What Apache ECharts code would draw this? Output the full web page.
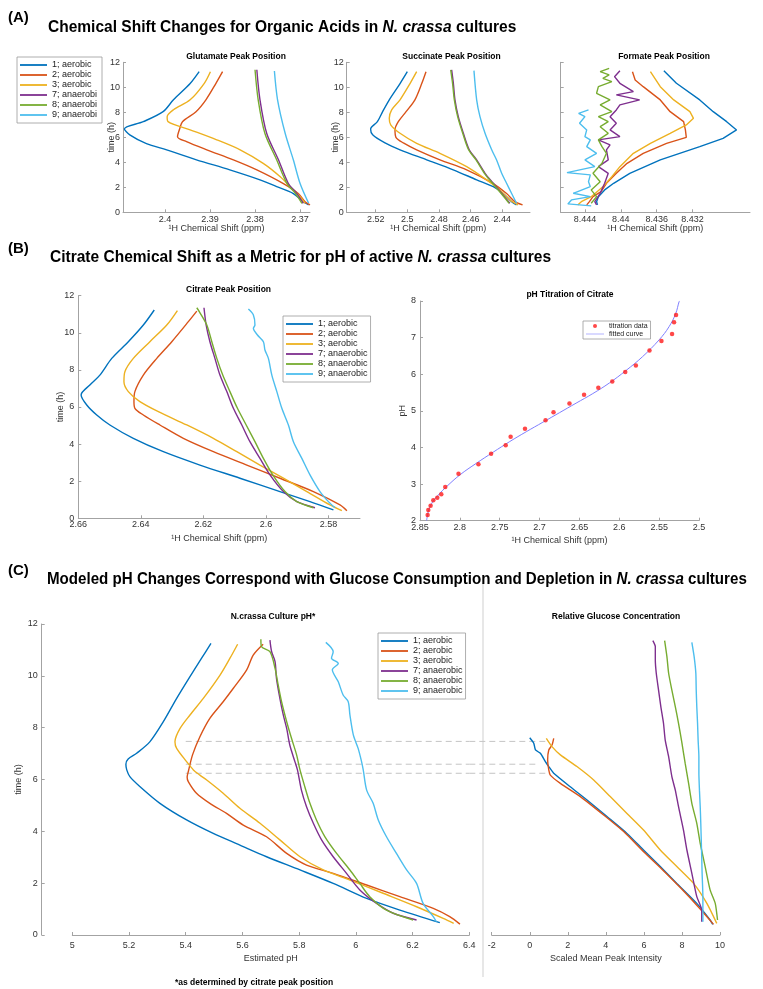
<!DOCTYPE html>
<html><head><meta charset="utf-8">
<script src="https://cdn.jsdelivr.net/npm/echarts@6/dist/echarts.min.js"></script>
<style>html,body{margin:0;padding:0;background:#fff}#c{width:763px;height:989px}</style>
</head><body><div id="c"></div><script>
const FONT = '"Liberation Sans", Arial, Helvetica, sans-serif';
const seriesNames = ['1; aerobic','2; aerobic','3; aerobic','7; anaerobic','8; anaerobic','9; anaerobic'];
const colors = ['#0072BD','#D95319','#EDB120','#7E2F8E','#77AC30','#4DBEEE'];

// ---- (A) Glutamate: [shift ppm, time h]
const glu1 = [[2.3924,11.25],[2.3944,10.3],[2.3981,9.0],[2.4004,8.05],[2.4048,7.25],[2.409,6.67],[2.4078,6.2],[2.4041,5.5],[2.3996,5.0],[2.393,4.2],[2.3856,3.4],[2.3789,2.6],[2.3752,2.05],[2.3715,1.5],[2.3693,0.85],[2.3681,0.6]];
const glu2 = [[2.3872,11.25],[2.3887,10.3],[2.3909,9.0],[2.3931,8.05],[2.3961,7.25],[2.3967,6.7],[2.3972,6.05],[2.3952,5.65],[2.3907,5.0],[2.3848,4.2],[2.3796,3.4],[2.3737,2.3],[2.3704,1.5],[2.3689,0.85],[2.3678,0.6]];
const glu3 = [[2.3899,11.25],[2.3913,10.3],[2.3944,9.0],[2.3981,8.2],[2.3995,7.65],[2.3993,7.25],[2.3944,6.6],[2.3885,5.8],[2.3833,5.0],[2.3781,3.9],[2.3744,2.85],[2.3722,2.05],[2.37,1.25],[2.3689,0.72]];
const glu7 = [[2.3796,11.4],[2.3789,9.0],[2.3774,6.3],[2.3748,4.2],[2.3726,2.3],[2.3707,1.5],[2.3693,0.72]];
const glu8 = [[2.38,11.4],[2.3793,9.0],[2.3778,6.3],[2.3752,4.2],[2.3729,2.3],[2.371,1.5],[2.3696,0.72]];
const glu9 = [[2.3757,11.3],[2.375,9.0],[2.3733,6.3],[2.3715,4.2],[2.37,2.3],[2.3681,0.72]];
const gluTicks = [2.4,2.39,2.38,2.37];

// ---- (A) Succinate
const suc1 = [[2.5,11.25],[2.5046,10.3],[2.5114,9.0],[2.5156,8.05],[2.5189,7.25],[2.5232,6.67],[2.5219,6.2],[2.5141,5.55],[2.5046,5.0],[2.4878,4.2],[2.471,3.4],[2.4562,2.6],[2.4457,2.05],[2.4394,1.5],[2.4341,0.85],[2.431,0.59]];
const suc2 = [[2.4882,11.25],[2.4909,10.3],[2.4952,9.0],[2.5008,8.05],[2.5057,7.25],[2.5078,6.6],[2.5072,6.0],[2.5025,5.55],[2.4941,5.0],[2.4794,4.2],[2.4625,3.4],[2.4457,2.3],[2.4373,1.5],[2.432,0.85],[2.4272,0.59]];
const suc3 = [[2.4941,11.25],[2.4983,10.3],[2.5046,9.0],[2.5099,8.2],[2.5114,7.52],[2.5105,7.0],[2.5046,6.32],[2.4941,5.52],[2.4794,4.72],[2.4625,3.65],[2.4499,2.59],[2.4415,1.79],[2.4352,0.99],[2.43,0.59]];
const suc7 = [[2.472,11.39],[2.4709,10.3],[2.4699,9.0],[2.4678,7.65],[2.4646,6.32],[2.4609,5.0],[2.4562,4.19],[2.4509,3.12],[2.4457,2.32],[2.4404,1.52],[2.4352,0.72]];
const suc8 = [[2.4726,11.39],[2.4714,10.3],[2.4703,9.0],[2.4682,7.65],[2.465,6.32],[2.4613,5.0],[2.4566,4.19],[2.4513,3.12],[2.4461,2.32],[2.4408,1.52],[2.4357,0.72]];
const suc9 = [[2.4579,11.33],[2.4562,9.0],[2.4541,7.65],[2.4509,6.32],[2.4467,5.0],[2.4436,4.19],[2.4404,3.12],[2.4373,2.32],[2.4341,1.5],[2.431,0.72]];
const sucTicks = [2.52,2.5,2.48,2.46,2.44];

// ---- (A) Formate
const for1 = [[8.4352,11.33],[8.4338,10.32],[8.4312,8.99],[8.4297,8.05],[8.4282,7.25],[8.4271,6.59],[8.4286,5.92],[8.4312,5.25],[8.4356,4.19],[8.439,3.12],[8.4408,2.32],[8.4418,1.79],[8.4425,1.25],[8.4427,0.85],[8.4426,0.59]];
const for2 = [[8.4387,11.25],[8.4384,10.59],[8.4375,10.05],[8.4356,8.99],[8.4345,8.05],[8.433,7.25],[8.4328,6.59],[8.4327,6.0],[8.4349,5.52],[8.4375,4.72],[8.4393,3.92],[8.4405,3.12],[8.4416,2.32],[8.4422,1.65],[8.4431,1.25],[8.4435,0.85],[8.4438,0.59]];
const for3 = [[8.4367,11.25],[8.4356,10.05],[8.4341,8.99],[8.4323,8.05],[8.4319,7.52],[8.4327,6.99],[8.4345,6.32],[8.4367,5.52],[8.4386,4.72],[8.4401,3.65],[8.441,2.85],[8.442,2.05],[8.4433,1.25],[8.4444,0.85],[8.4448,0.59]];
const for7 = [[8.4401,11.33],[8.4407,10.85],[8.4401,10.32],[8.4386,9.65],[8.4405,9.39],[8.4379,8.99],[8.4401,8.59],[8.4405,8.19],[8.4412,7.65],[8.4405,7.12],[8.4412,6.59],[8.4401,6.05],[8.4425,5.79],[8.4412,5.39],[8.4416,4.99],[8.4414,4.19],[8.4425,3.65],[8.4414,3.12],[8.4418,2.32],[8.4423,1.52],[8.4429,0.85],[8.4427,0.59]];
const for8 = [[8.4413,11.52],[8.4423,11.25],[8.4413,10.99],[8.442,10.72],[8.441,10.45],[8.4425,10.05],[8.4427,9.52],[8.4412,8.99],[8.4423,8.59],[8.441,8.05],[8.4425,7.65],[8.4414,7.25],[8.4423,6.85],[8.4414,6.32],[8.4425,5.79],[8.4421,5.25],[8.4416,4.72],[8.4421,3.92],[8.4431,3.12],[8.4423,2.45],[8.4433,1.79],[8.4427,1.25],[8.4433,0.72]];
const for9 = [[8.4436,8.19],[8.4447,7.92],[8.444,7.65],[8.4446,7.12],[8.4438,6.59],[8.444,6.05],[8.4434,5.79],[8.4438,5.25],[8.4427,4.72],[8.444,4.19],[8.4429,3.65],[8.446,3.17],[8.4434,2.99],[8.4436,2.45],[8.4434,2.05],[8.4453,1.52],[8.4434,1.25],[8.4455,0.99],[8.4459,0.67],[8.4433,0.51]];
const forTicks = [8.444,8.44,8.436,8.432];

// ---- (B) Citrate
const cit1 = [[2.6357,11.23],[2.6392,10.42],[2.644,9.52],[2.6493,8.62],[2.6531,7.72],[2.6563,7.19],[2.6591,6.65],[2.6573,6.11],[2.6541,5.57],[2.6499,5.03],[2.6424,4.31],[2.6328,3.59],[2.6211,2.87],[2.6083,2.16],[2.5955,1.44],[2.5859,0.9],[2.5784,0.45]];
const cit2 = [[2.6221,11.17],[2.6248,10.6],[2.6301,9.52],[2.6349,8.62],[2.6392,7.72],[2.6419,6.83],[2.6422,6.29],[2.6419,5.93],[2.6392,5.57],[2.6339,5.03],[2.6264,4.31],[2.6168,3.59],[2.6061,2.87],[2.5955,2.16],[2.5848,1.44],[2.5763,0.72],[2.5741,0.41]];
const cit3 = [[2.6283,11.2],[2.6317,10.42],[2.6371,9.52],[2.6424,8.62],[2.6451,7.9],[2.6454,7.36],[2.644,6.83],[2.6403,6.29],[2.6344,5.75],[2.6253,5.03],[2.6168,4.31],[2.6093,3.59],[2.6019,2.87],[2.5944,2.16],[2.5869,1.44],[2.5795,0.72],[2.5757,0.41]];
const cit7 = [[2.6198,11.35],[2.6191,10.42],[2.6179,9.52],[2.6163,8.62],[2.6147,7.72],[2.6125,6.83],[2.6104,5.93],[2.6077,5.03],[2.6051,4.13],[2.6019,3.23],[2.5987,2.34],[2.5944,1.44],[2.5901,0.9],[2.5843,0.57]];
const cit8 = [[2.6221,11.35],[2.6213,11.14],[2.6189,10.42],[2.6173,9.52],[2.6157,8.62],[2.6138,7.72],[2.6115,6.83],[2.6091,5.93],[2.6063,5.03],[2.6035,4.13],[2.6008,3.23],[2.5978,2.34],[2.5939,1.44],[2.5901,0.9],[2.5848,0.57]];
const cit9 = [[2.6056,11.28],[2.604,10.96],[2.6035,10.42],[2.604,10.24],[2.6027,9.88],[2.6008,9.52],[2.6003,9.07],[2.5992,8.62],[2.5981,7.72],[2.5965,6.83],[2.5949,5.93],[2.5928,5.03],[2.5912,4.13],[2.5885,3.23],[2.5859,2.34],[2.5827,1.44],[2.58,0.9],[2.5779,0.57]];
const citTicks = [2.66,2.64,2.62,2.6,2.58];

// ---- (B) pH titration of citrate
const titShift = [2.8404,2.8396,2.8367,2.8333,2.8283,2.8233,2.8183,2.8017,2.7767,2.7608,2.7425,2.7363,2.7183,2.6925,2.6825,2.6625,2.6442,2.6263,2.6088,2.5925,2.5792,2.5621,2.5471,2.5338,2.5313,2.5288];
const titPH = [2.155,2.29,2.41,2.56,2.63,2.72,2.92,3.28,3.54,3.83,4.06,4.29,4.51,4.74,4.96,5.20,5.44,5.63,5.80,6.06,6.24,6.65,6.91,7.10,7.42,7.62];
const fitShift = [2.8417,2.8396,2.8354,2.8271,2.8167,2.8,2.7792,2.7583,2.7375,2.7167,2.6958,2.675,2.6542,2.6333,2.6125,2.5917,2.5708,2.55,2.5375,2.5292,2.525,2.5242];
const fitPH = [2.0,2.25,2.47,2.7,2.93,3.25,3.57,3.87,4.16,4.43,4.69,4.95,5.21,5.47,5.76,6.1,6.48,6.94,7.3,7.66,7.98,8.0];

// ---- (C) Estimated pH: [pH, time h]
const ph1 = [[5.489,11.25],[5.456,10.68],[5.415,9.97],[5.368,9.13],[5.321,8.23],[5.274,7.46],[5.227,7.01],[5.197,6.79],[5.189,6.59],[5.192,6.37],[5.203,6.11],[5.239,5.72],[5.309,5.08],[5.403,4.44],[5.497,3.92],[5.591,3.47],[5.685,3.02],[5.803,2.51],[5.92,1.99],[6.038,1.41],[6.155,0.96],[6.296,0.48]];
const ph2 = [[5.673,11.22],[5.638,10.8],[5.615,10.23],[5.568,9.52],[5.532,9.0],[5.485,8.36],[5.45,7.65],[5.424,6.95],[5.409,6.3],[5.405,6.1],[5.409,5.92],[5.438,5.47],[5.485,5.08],[5.544,4.69],[5.603,4.24],[5.685,3.79],[5.756,3.15],[5.826,2.7],[5.92,2.38],[6.038,1.93],[6.155,1.48],[6.273,1.03],[6.331,0.71],[6.367,0.42]];
const ph3 = [[5.583,11.22],[5.556,10.68],[5.521,10.03],[5.462,9.13],[5.415,8.49],[5.38,7.97],[5.362,7.46],[5.368,7.2],[5.403,6.69],[5.427,6.37],[5.45,6.17],[5.474,5.98],[5.532,5.47],[5.591,4.89],[5.662,4.31],[5.732,3.67],[5.803,3.02],[5.885,2.51],[5.979,2.12],[6.096,1.61],[6.214,1.09],[6.308,0.64],[6.345,0.45]];
const ph7 = [[5.697,11.38],[5.703,10.93],[5.715,10.55],[5.72,9.9],[5.732,9.13],[5.744,8.49],[5.756,7.97],[5.767,7.33],[5.785,6.69],[5.794,6.37],[5.808,5.59],[5.826,4.95],[5.85,4.31],[5.879,3.67],[5.92,3.02],[5.967,2.38],[6.014,1.74],[6.073,1.22],[6.132,0.84],[6.214,0.58]];
const ph8 = [[5.665,11.41],[5.667,11.13],[5.697,10.93],[5.715,10.29],[5.726,9.65],[5.738,9.0],[5.756,8.23],[5.773,7.59],[5.791,6.95],[5.803,6.37],[5.82,5.72],[5.838,5.08],[5.861,4.44],[5.891,3.79],[5.932,3.15],[5.979,2.51],[6.014,1.99],[6.049,1.48],[6.108,0.96],[6.202,0.58]];
const ph9 = [[5.894,11.29],[5.92,10.93],[5.914,10.68],[5.938,10.48],[5.917,10.23],[5.938,9.77],[5.955,9.26],[5.973,9.0],[5.979,8.49],[5.991,7.72],[6.008,7.2],[6.02,6.69],[6.026,6.37],[6.038,5.59],[6.061,5.08],[6.079,4.44],[6.108,3.79],[6.143,3.15],[6.179,2.51],[6.214,1.99],[6.237,1.22],[6.273,0.71],[6.284,0.51]];

// ---- (C) Relative glucose: [scaled intensity, time h]
const glc1 = [[0,7.61],[0.21,7.4],[0.3,7.14],[0.56,7.01],[0.82,6.69],[1.0,6.5],[1.26,6.24],[2.13,5.72],[3.01,5.21],[4.06,4.57],[5.11,3.92],[5.98,3.28],[6.86,2.64],[7.73,1.99],[8.78,1.22],[9.48,0.58],[9.62,0.41]];
const glc2 = [[1.26,7.59],[1.17,7.33],[1.0,7.14],[0.94,6.75],[1.0,6.37],[1.08,6.17],[1.61,5.85],[2.66,5.34],[3.9,4.62],[4.95,3.98],[6.0,3.2],[7.0,2.5],[7.95,1.8],[8.9,1.05],[9.66,0.41]];
const glc3 = [[0.87,7.59],[1.17,7.27],[1.61,6.95],[2.48,6.5],[3.36,5.98],[4.23,5.34],[5.11,4.69],[5.98,4.05],[6.86,3.28],[7.73,2.64],[8.61,1.99],[9.31,1.22],[9.83,0.45]];
const glc7 = [[6.47,11.36],[6.6,11.13],[6.6,10.61],[6.65,10.1],[6.77,9.45],[6.89,8.81],[7.03,8.17],[7.12,7.52],[7.3,6.88],[7.47,6.11],[7.65,5.59],[7.82,4.95],[8.08,4.05],[8.26,3.28],[8.52,2.38],[8.78,1.48],[9.04,0.96],[9.04,0.51]];
const glc8 = [[7.09,11.36],[7.21,10.74],[7.3,10.1],[7.47,9.45],[7.65,8.81],[7.82,8.17],[8.0,7.4],[8.17,6.62],[8.35,5.85],[8.52,5.08],[8.78,4.31],[8.96,3.54],[9.22,2.64],[9.48,1.74],[9.75,1.22],[9.87,0.58]];
const glc9 = [[8.52,11.29],[8.64,10.74],[8.73,10.1],[8.75,9.45],[8.78,8.81],[8.82,8.17],[8.85,7.52],[8.89,6.88],[8.89,6.24],[8.92,5.59],[8.96,4.95],[8.99,4.31],[9.03,3.28],[9.06,2.38],[9.1,1.48],[9.1,0.51]];

// dashed guide lines (time h): start on the pH axis, end on the glucose axis
const guideTimes = [7.47, 6.59, 6.24];
const guidePH = 5.4;
const guideGlucoseEnd = [0.82, 0.39, 0.82];
const phMax = 6.4;
const bridgeMin = -3.18;   // glucose units at the left edge of the bridging overlay

// ------------------------------------------------------------------
const chart = echarts.init(document.getElementById('c'), null, {renderer:'canvas'});
const AXC = '#a3a3a3', LBL = '#333';
const LINE_ICON = 'path://M0,0H30V2H0Z';

function ax(base, label, tick){
  return Object.assign({
    type:'value', nameLocation:'middle', nameGap:12, nameMoveOverlap:false,
    nameTextStyle:{color:LBL, fontSize:9, fontFamily:FONT},
    axisLine:{show:true, onZero:false, lineStyle:{color:AXC, width:1}},
    axisTick:Object.assign({show:true, inside:true, length:3, lineStyle:{color:AXC}}, tick||{}),
    axisLabel:Object.assign({color:LBL, fontSize:9, fontFamily:FONT, margin:4, showMinLabel:true, showMaxLabel:true}, label||{}),
    splitLine:{show:false}
  }, base);
}

function lines(sets, gi, smooth){
  return sets.map((d,i)=>({
    type:'line', name:seriesNames[i], xAxisIndex:gi, yAxisIndex:gi, data:d,
    symbol:'none', showSymbol:false, smooth:smooth,
    lineStyle:{width:1.4, color:colors[i]}, itemStyle:{color:colors[i]},
    emphasis:{disabled:true}, animation:false
  }));
}

const grids = [
  {left:123, top:62.3, width:187, height:150},
  {left:346.7, top:62.3, width:183.3, height:150},
  {left:560.7, top:62.3, width:189.3, height:150},
  {left:78.3, top:295.7, width:281.7, height:222.6},
  {left:420, top:301, width:279, height:219.7},
  {left:72.3, top:624, width:397, height:311},
  {left:491.7, top:624, width:228.3, height:311},
  {left:469.3, top:624, width:250.7, height:311}   // invisible bridge for guide lines
];

const shiftName = '\u00b9H Chemical Shift (ppm)';
const xAxes = [
  ax({gridIndex:0, inverse:true, min:2.3678, max:2.4093, name:shiftName, nameGap:12}, {customValues:gluTicks, margin:3}, {customValues:gluTicks}),
  ax({gridIndex:1, inverse:true, min:2.4225, max:2.5383, name:shiftName, nameGap:12}, {customValues:sucTicks, margin:3}, {customValues:sucTicks}),
  ax({gridIndex:2, inverse:true, min:8.4256, max:8.4467, name:shiftName, nameGap:12}, {customValues:forTicks, margin:3}, {customValues:forTicks}),
  ax({gridIndex:3, inverse:true, min:2.5699, max:2.66, name:shiftName, nameGap:16}, {customValues:citTicks, margin:2}, {customValues:citTicks}),
  ax({gridIndex:4, inverse:true, min:2.5, max:2.85, interval:0.05, name:shiftName, nameGap:15}, {margin:2}),
  ax({gridIndex:5, min:5, max:phMax, interval:0.2, name:'Estimated pH', nameGap:19}, {margin:6}),
  ax({gridIndex:6, min:-2, max:10, interval:2, name:'Scaled Mean Peak Intensity', nameGap:19}, {margin:6}),
  {type:'value', gridIndex:7, min:bridgeMin, max:10, show:false}
];
const yAxes = [
  ax({gridIndex:0, min:0, max:12, interval:2, name:'time (h)', nameGap:7}, {margin:3}),
  ax({gridIndex:1, min:0, max:12, interval:2, name:'time (h)', nameGap:7}, {margin:3}),
  ax({gridIndex:2, min:0, max:12, interval:2}, {show:false}),
  ax({gridIndex:3, min:0, max:12, interval:2, name:'time (h)', nameGap:13}),
  ax({gridIndex:4, min:2, max:8, interval:1, name:'pH', nameGap:13}),
  ax({gridIndex:5, min:0, max:12, interval:2, name:'time (h)', nameGap:19, offset:30.6}),
  {type:'value', gridIndex:6, min:0, max:12, show:false},
  {type:'value', gridIndex:7, min:0, max:12, show:false}
];

const series = [].concat(
  lines([glu1,glu2,glu3,glu7,glu8,glu9], 0, 0.3),
  lines([suc1,suc2,suc3,suc7,suc8,suc9], 1, 0.3),
  lines([for1,for2,for3,for7,for8,for9], 2, false),
  lines([cit1,cit2,cit3,cit7,cit8,cit9], 3, 0.3),
  lines([ph1,ph2,ph3,ph7,ph8,ph9], 5, 0.3),
  lines([glc1,glc2,glc3,glc7,glc8,glc9], 6, 0.2)
);
series.push({
  type:'line', name:'fitted curve', xAxisIndex:4, yAxisIndex:4,
  data: fitShift.map((s,i)=>[s, fitPH[i]]), symbol:'none', smooth:0.4,
  lineStyle:{width:1, color:'#7f7fff'}, itemStyle:{color:'#7f7fff'}, animation:false
});
series.push({
  type:'scatter', name:'titration data', xAxisIndex:4, yAxisIndex:4,
  data: titShift.map((s,i)=>[s, titPH[i]]), symbol:'circle', symbolSize:4.5,
  itemStyle:{color:'#ff1a1a'}, animation:false, z:3
});
guideTimes.forEach((t,i)=>{
  const dash = {symbol:'none', silent:true, animation:false, z:1,
    lineStyle:{type:[6,4], color:'#c4c4c4', width:1}};
  series.push(Object.assign({type:'line', xAxisIndex:5, yAxisIndex:5, data:[[guidePH,t],[phMax,t]]}, dash));
  series.push(Object.assign({type:'line', xAxisIndex:7, yAxisIndex:7, data:[[bridgeMin,t],[guideGlucoseEnd[i],t]]}, dash));
});

const legBase = {
  orient:'vertical', icon:LINE_ICON, itemWidth:27, itemHeight:10, itemGap:0, padding:[3,3,3,3],
  borderColor:'#9a9a9a', borderWidth:0.8, backgroundColor:'#fff', selectedMode:false,
  textStyle:{fontSize:9, fontFamily:FONT, color:'#222', lineHeight:10},
  data:seriesNames
};
const legends = [
  Object.assign({}, legBase, {left:17, top:57,
    textStyle:{fontSize:9, fontFamily:FONT, color:'#222', lineHeight:10, width:47, overflow:'truncate', ellipsis:''}}),
  Object.assign({}, legBase, {left:283, top:316}),
  Object.assign({}, legBase, {left:378, top:633}),
  {orient:'vertical', left:583, top:321, itemWidth:18, itemHeight:4, itemGap:0, padding:[1,3,1,3],
   borderColor:'#9a9a9a', borderWidth:0.8, backgroundColor:'#fff', selectedMode:false,
   textStyle:{fontSize:7, fontFamily:FONT, color:'#222', lineHeight:8},
   data:[{name:'titration data', icon:'circle'},
         {name:'fitted curve', icon:'path://M0,0H30V1H0Z'}]}
];

function T(x, y, text, size, opt){
  opt = opt || {};
  return {type:'text', x:x, y:y, silent:true, scaleX:opt.sx||1, z:10,
    style:Object.assign({text:text, fill:'#000', fontFamily:FONT, fontSize:size, fontWeight:'bold',
      align:opt.align||'center', textAlign:opt.align||'center', verticalAlign:'middle', textVerticalAlign:'middle'}, opt.style||{})};
}
function mainTitle(x, y, pre, ital, post, sx){
  const st = {fontSize:16, fontWeight:'bold', fontFamily:FONT, fill:'#000', color:'#000'};
  return {type:'text', x:x, y:y, silent:true, scaleX:sx, z:10,
    style:{text:'{b|'+pre+'}{i|'+ital+'}{b|'+post+'}', align:'left', textAlign:'left', verticalAlign:'middle', textVerticalAlign:'middle',
      rich:{b:st, i:Object.assign({}, st, {fontStyle:'italic'})}}};
}

const graphic = [
  T(8, 18, '(A)', 15, {align:'left'}),
  mainTitle(48, 28, 'Chemical Shift Changes for Organic Acids in ', 'N. crassa', ' cultures', 0.97),
  T(8, 249, '(B)', 15, {align:'left'}),
  mainTitle(50, 258, 'Citrate Chemical Shift as a Metric for pH of active ', 'N. crassa', ' cultures', 0.97),
  T(8, 571, '(C)', 15, {align:'left'}),
  mainTitle(47, 580, 'Modeled pH Changes Correspond with Glucose Consumption and Depletion in ', 'N. crassa', ' cultures', 0.945),
  T(236, 57, 'Glutamate Peak Position', 8.5),
  T(451.5, 57, 'Succinate Peak Position', 8.5),
  T(664, 57, 'Formate Peak Position', 8.5),
  T(228.5, 290, 'Citrate Peak Position', 8.5),
  T(570, 295, 'pH Titration of Citrate', 8.5),
  T(273, 617, 'N.crassa Culture pH*', 8.5),
  T(616, 617, 'Relative Glucose Concentration', 8.5),
  T(254, 983, '*as determined by citrate peak position', 8.5),
  {type:'line', silent:true, shape:{x1:483, y1:583, x2:483, y2:977}, style:{stroke:'#cfcfcf', lineWidth:1}}
];

chart.setOption({
  animation:false,
  backgroundColor:'#fff',
  grid:grids, xAxis:xAxes, yAxis:yAxes,
  legend:legends, series:series, graphic:graphic
});
</script></body></html>
